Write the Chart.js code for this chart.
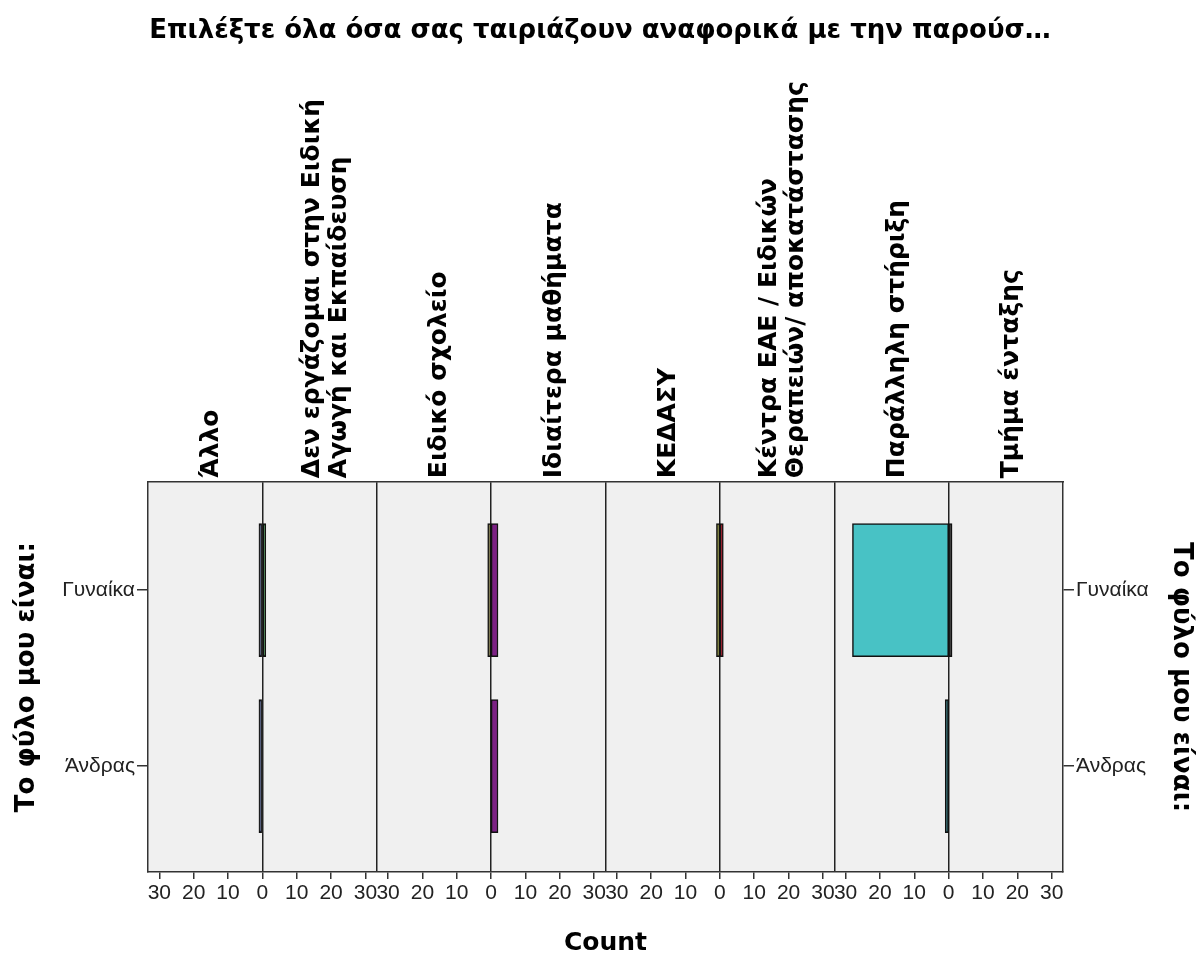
<!DOCTYPE html>
<html>
<head>
<meta charset="utf-8">
<script src="https://cdn.jsdelivr.net/npm/chart.js"></script>
<style>
  html, body { margin: 0; padding: 0; background: #fff; }
  #chart { display: block; }
</style>
</head>
<body>
<canvas id="chart" width="1200" height="958"></canvas>
<script>
// chart values
const chartTitle = 'Επιλέξτε όλα όσα σας ταιριάζουν αναφορικά με την παρούσ…';
const genders = ['Γυναίκα', 'Άνδρας'];
// pairs of categories, left half then right half of every panel
const categories = [
  ['Άλλο'],
  ['Δεν εργάζομαι στην Ειδική', 'Αγωγή και Εκπαίδευση'],
  ['Ειδικό σχολείο'],
  ['Ιδιαίτερα μαθήματα'],
  ['ΚΕΔΑΣΥ'],
  ['Κέντρα ΕΑΕ / Ειδικών', 'Θεραπειών/ αποκατάστασης'],
  ['Παράλληλη στήριξη'],
  ['Τμήμα ένταξης']
];
const womenCounts = [1, 1, 1, 2, 1, 1, 28, 1];
const menCounts   = [1, 0, 0, 2, 0, 0, 1, 0];
const countTicks = [-30, -20, -10, 0, 10, 20, 30];

// colours per bar
const womenColors = ['#2b3a6b', '#1f6a2d', '#807b52', '#7c2184', '#979a46', '#9d2331', '#48c2c5', '#3e3e3e'];
const menColors   = ['#2b3a6b', '#1f6a2d', '#807b52', '#7c2184', '#979a46', '#9d2331', '#2e7077', '#3e3e3e'];

const HALF = 33.3;          // half a panel, in counts
const PANEL = HALF * 2;
const panelCount = categories.length / 2;
const LEFT_W = 148, RIGHT_W = 137;
const PX_PER_COUNT = (1200 - LEFT_W - RIGHT_W) / (PANEL * panelCount);
const LABEL_LH = 27;        // line height of the category labels

function barsFor(counts, colors, gi) {
  const data = [], bg = [];
  counts.forEach((v, i) => {
    if (!v) return;
    const c = Math.floor(i / 2) * PANEL;
    const dir = i % 2 ? 1 : -1;
    data.push({ y: gi, x: [c, c + dir * v] });
    bg.push(colors[i]);
  });
  return { data, bg };
}

const w = barsFor(womenCounts, womenColors, 0);
const m = barsFor(menCounts, menColors, 1);

const isPanelLine = v => {
  const r = v / HALF;
  return Math.abs(r - Math.round(r)) < 1e-6;
};
const isBoundary = v => isPanelLine(v) && Math.round(v / HALF) % 2 !== 0;

const plotBg = {
  id: 'plotBg',
  beforeDraw(chart) {
    const { ctx, chartArea: a } = chart;
    ctx.save();
    ctx.fillStyle = '#f0f0f0';
    ctx.fillRect(a.left, a.top, a.right - a.left, a.bottom - a.top);
    ctx.restore();
  }
};

const yScale = (pos) => ({
  type: 'linear',
  position: pos,
  reverse: true,
  offset: false,
  min: -0.614,
  max: 1.602,
  afterBuildTicks: s => { s.ticks = genders.map((g, i) => ({ value: i })); },
  afterFit: s => { s.width = pos === 'left' ? LEFT_W : RIGHT_W; },
  ticks: {
    callback: v => genders[v],
    font: { family: 'Liberation Sans', size: 21 },
    color: '#222',
    padding: 2
  },
  grid: { offset: false, drawOnChartArea: false, tickLength: 11, tickColor: '#333', lineWidth: 1.5 },
  border: { display: true, color: '#333', width: 1.5 },
  title: {
    display: true,
    text: 'Το φύλο μου είναι:',
    font: { family: 'DejaVu Sans', size: 26, weight: 'bold' },
    color: '#000',
    padding: { top: pos === 'left' ? 12 : 4, bottom: 0 }
  }
});

new Chart(document.getElementById('chart'), {
  type: 'bar',
  data: {
    datasets: [
      { label: genders[0], data: w.data, backgroundColor: w.bg },
      { label: genders[1], data: m.data, backgroundColor: m.bg }
    ]
  },
  options: {
    indexAxis: 'y',
    responsive: false,
    animation: false,
    grouped: false,
    barThickness: 133,
    borderColor: '#111',
    borderWidth: 1.5,
    borderSkipped: false,
    layout: { padding: 0 },
    plugins: {
      legend: { display: false },
      tooltip: { enabled: false },
      title: {
        display: true,
        text: chartTitle,
        font: { family: 'DejaVu Sans', size: 26, weight: 'bold' },
        color: '#000',
        padding: { top: 16, bottom: 10 }
      }
    },
    scales: {
      x: {
        type: 'linear',
        position: 'bottom',
        min: -HALF,
        max: PANEL * panelCount - HALF,
        afterBuildTicks: s => {
          const t = [];
          for (let p = 0; p < panelCount; p++) {
            const c = p * PANEL;
            countTicks.forEach(v => t.push({ value: c + v }));
            if (p < panelCount - 1) t.push({ value: c + HALF });
          }
          s.ticks = t.sort((a, b) => a.value - b.value);
        },
        afterFit: s => { s.height = 86; },
        ticks: {
          autoSkip: false,
          maxRotation: 0,
          minRotation: 0,
          padding: 2,
          font: { family: 'Liberation Sans', size: 21 },
          color: '#222',
          callback: v => {
            if (isBoundary(v)) return '';
            const rel = v - Math.round(v / PANEL) * PANEL;
            return String(Math.round(Math.abs(rel)));
          }
        },
        grid: {
          drawOnChartArea: true,
          tickLength: 7,
          lineWidth: 1.5,
          color: c => (c.tick && isPanelLine(c.tick.value)) ? '#222' : 'rgba(0,0,0,0)',
          tickColor: c => (c.tick && isBoundary(c.tick.value)) ? 'rgba(0,0,0,0)' : '#333'
        },
        border: { display: true, color: '#333', width: 1.5 },
        title: {
          display: true,
          text: 'Count',
          font: { family: 'DejaVu Sans', size: 25, weight: 'bold' },
          color: '#000',
          padding: { top: 0, bottom: 0 }
        }
      },
      x2: {
        type: 'linear',
        position: 'top',
        offset: false,
        min: -HALF,
        max: PANEL * panelCount - HALF,
        // one tick per half panel; multi-line labels are nudged so the block stays centred
        afterBuildTicks: s => {
          s.ticks = categories.map((lab, i) => ({
            value: Math.floor(i / 2) * PANEL + (i % 2 ? 1 : -1) * HALF / 2
              + (lab.length - 1) * LABEL_LH / 2 / PX_PER_COUNT
          }));
        },
        afterFit: s => { s.height = 425; },
        ticks: {
          autoSkip: false,
          minRotation: 90,
          maxRotation: 90,
          padding: 4,
          labelOffset: 6 + LABEL_LH,
          font: { family: 'DejaVu Sans', size: 25, weight: 'bold', lineHeight: LABEL_LH + 'px' },
          color: '#000',
          callback: (v, i) => categories[i]
        },
        grid: { offset: false, drawOnChartArea: false, drawTicks: false },
        border: { display: true, color: '#333', width: 1.5 }
      },
      y: yScale('left'),
      y2: yScale('right')
    }
  },
  plugins: [plotBg]
});
</script>
</body>
</html>
